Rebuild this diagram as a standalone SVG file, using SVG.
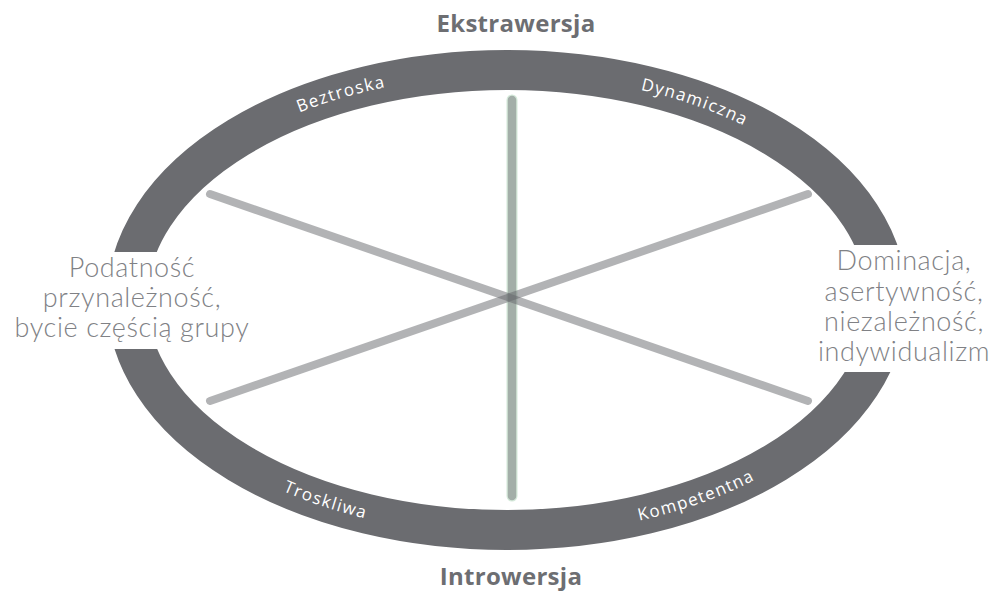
<svg xmlns="http://www.w3.org/2000/svg" width="995" height="593" viewBox="0 0 995 593">
<style>
.title{font-family:"Open Sans","Liberation Sans",sans-serif;font-weight:700;font-size:24px;letter-spacing:0.3px;fill:#6d6e72;text-anchor:middle}
.side{font-family:Lato,"Open Sans","Liberation Sans",sans-serif;font-weight:300;font-size:27px;letter-spacing:0.6px;fill:#808185;text-anchor:middle}
.ring{font-family:"Open Sans","Liberation Sans",sans-serif;font-size:17px;letter-spacing:1.4px;fill:#ffffff;text-anchor:middle}
.diag{stroke:#66676b;stroke-opacity:0.5;stroke-width:8;stroke-linecap:round;fill:none}
</style>
<defs>
<mask id="gaps" maskUnits="userSpaceOnUse" x="0" y="0" width="995" height="593">
<rect x="0" y="0" width="995" height="593" fill="#fff"/>
<rect x="0" y="252" width="260" height="97" fill="#000"/>
<rect x="780" y="245" width="215" height="127" fill="#000"/>
</mask>
<path id="pBez" d="M258,131.7 A375,225 0 0 1 431.6,79.6"/>
<path id="pDyn" d="M607.2,83.2 A375,225 0 0 1 774.5,142.3"/>
<path id="pTro" d="M239.5,469 A385,235 0 0 0 413.9,528"/>
<path id="pKom" d="M609.9,526.4 A385,235 0 0 0 781.6,464.7"/>
</defs>
<rect width="995" height="593" fill="#ffffff"/>
<g id="ring">
<ellipse cx="507" cy="300" rx="380" ry="230" fill="none" stroke="#6b6c70" stroke-width="40" mask="url(#gaps)"/>
<text class="ring"><textPath href="#pBez" startOffset="50%">Beztroska</textPath></text>
<text class="ring"><textPath href="#pDyn" startOffset="50%">Dynamiczna</textPath></text>
<text class="ring"><textPath href="#pTro" startOffset="50%">Troskliwa</textPath></text>
<text class="ring"><textPath href="#pKom" startOffset="50%">Kompetentna</textPath></text>
</g>
<g id="connectors">
<line x1="512" y1="100" x2="512" y2="496" stroke="#d4e8d9" stroke-width="11" stroke-linecap="round"/>
<line x1="512" y1="100" x2="512" y2="496" stroke="#a3aea8" stroke-width="8.5" stroke-linecap="round"/>
<line class="diag" x1="210" y1="194" x2="808" y2="401"/>
<line class="diag" x1="210" y1="401" x2="808" y2="194"/>
</g>
<g id="top-label"><text class="title" x="516" y="32">Ekstrawersja</text></g>
<g id="bottom-label"><text class="title" x="511" y="585">Introwersja</text></g>
<g id="left-label">
<text class="side" x="132" y="277">Podatność</text>
<text class="side" x="132" y="307">przynależność,</text>
<text class="side" x="132" y="337">bycie częścią grupy</text>
</g>
<g id="right-label">
<text class="side" x="904" y="270">Dominacja,</text>
<text class="side" x="904" y="301">asertywność,</text>
<text class="side" x="904" y="331">niezależność,</text>
<text class="side" x="904" y="361">indywidualizm</text>
</g>
</svg>
